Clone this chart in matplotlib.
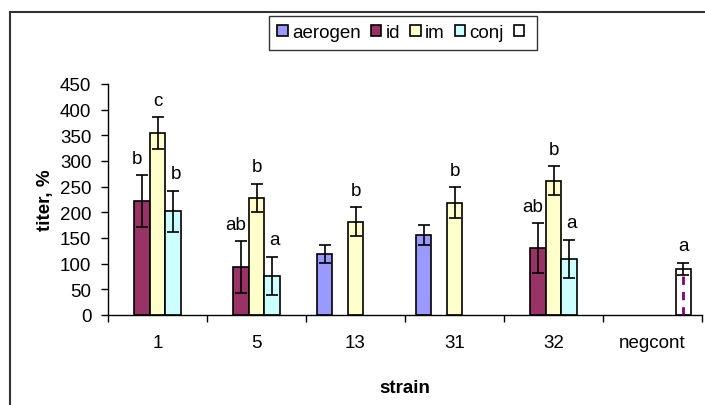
import numpy as np
import matplotlib
matplotlib.use('Agg')
import matplotlib.pyplot as plt
from matplotlib.lines import Line2D

plt.rcParams['font.family'] = ['Liberation Sans', 'DejaVu Sans']

strains = ['1', '5', '13', '31', '32', 'negcont']
series = ['aerogen', 'id', 'im', 'conj', '']
nan = np.nan

aerogen = [nan, nan, 119, 156, nan, nan]
aerogen_err = [nan, nan, 17, 20, nan, nan]
id_vals = [222, 93, nan, nan, 130, nan]
id_err = [50, 51, nan, nan, 49, nan]
im = [354, 228, 182, 219, 262, nan]
im_err = [31, 28, 28, 30, 28, nan]
conj = [202, 76, nan, nan, 110, nan]
conj_err = [40, 37, nan, nan, 37, nan]
negcont = [nan, nan, nan, nan, nan, 90]
negcont_err = [nan, nan, nan, nan, nan, 12]

id_letters = ['b', 'ab', '', '', 'ab', '']
im_letters = ['c', 'b', 'b', 'b', 'b', '']
conj_letters = ['b', 'a', '', '', 'a', '']
negcont_letters = ['', '', '', '', '', 'a']
aerogen_letters = [''] * 6

colors = ['#9999FF', '#993366', '#FFFFCC', '#CCFFFF', '#FFFFFF']
# small horizontal nudge of the letters per series (points)
letter_dx = [0, -4, 0, 2, 0]
fs = 13.5

fig = plt.figure(figsize=(7.05, 4.06), dpi=100)
ax = fig.add_axes([108 / 705, 1 - 316 / 406, 594 / 705, 231 / 406])

x = np.arange(len(strains))
w = 0.155
all_vals = [aerogen, id_vals, im, conj, negcont]
all_errs = [aerogen_err, id_err, im_err, conj_err, negcont_err]
all_letters = [aerogen_letters, id_letters, im_letters, conj_letters, negcont_letters]

handles = []
for i, (vals, errs, letters) in enumerate(zip(all_vals, all_errs, all_letters)):
    pos = x + (i - 2) * w
    bars = ax.bar(pos, vals, width=w, color=colors[i], edgecolor='black',
                  linewidth=1.2, label=series[i])
    handles.append(bars)
    ax.errorbar(pos, vals, yerr=errs, fmt='none', ecolor='black',
                elinewidth=1.2, capsize=4, capthick=1.2)
    for p, v, e, t in zip(pos, vals, errs, letters):
        if t and not np.isnan(v):
            ax.annotate(t, (p, v + e), xytext=(letter_dx[i], 9),
                        textcoords='offset points',
                        ha='center', va='baseline', fontsize=fs)
    if i == 4:
        # dashed purple pattern inside the negative control bar
        for rect in bars.patches:
            if rect.get_height() > 0:
                cx = rect.get_x() + rect.get_width() / 2
                ax.plot([cx, cx], [0, rect.get_height()], color='#800080',
                        linewidth=2, linestyle=(0, (3, 2.5)))

ax.set_xlim(-0.5, len(strains) - 0.5)
ax.set_ylim(0, 450)
ax.set_yticks(np.arange(0, 451, 50))
ax.set_xticks(x)
ax.set_xticklabels(strains)
ax.set_xticks(np.arange(-0.5, len(strains)), minor=True)
ax.tick_params(axis='x', which='major', length=0, labelsize=fs, pad=14)
ax.tick_params(axis='x', which='minor', length=5, width=1, direction='out')
ax.tick_params(axis='y', length=5, width=1, direction='out', labelsize=fs, pad=7)
ax.spines['top'].set_visible(False)
ax.spines['right'].set_visible(False)
ax.spines['left'].set_linewidth(1)
ax.spines['bottom'].set_linewidth(1)

ax.set_xlabel('strain', fontsize=fs, fontweight='bold', labelpad=20)
ax.set_ylabel('titer, %', fontsize=fs, fontweight='bold', labelpad=4)

leg = fig.legend(handles=handles, labels=series, loc='upper left',
                 bbox_to_anchor=(269 / 705, 1 - 17 / 406), borderaxespad=0,
                 ncol=5, fontsize=fs, frameon=True, fancybox=False,
                 handlelength=0.55, handleheight=0.55, handletextpad=0.22,
                 columnspacing=0.55, borderpad=0.45)
leg.get_frame().set_edgecolor('black')
leg.get_frame().set_linewidth(1)

# chart area border (cut off on the right and bottom)
fig.add_artist(Line2D([9.5 / 705, 1], [1 - 12.5 / 406] * 2, color='#333333',
                      linewidth=1.5, transform=fig.transFigure))
fig.add_artist(Line2D([9.5 / 705] * 2, [0, 1 - 12.5 / 406], color='#333333',
                      linewidth=1.5, transform=fig.transFigure))

fig.savefig('out.png', dpi=100)
